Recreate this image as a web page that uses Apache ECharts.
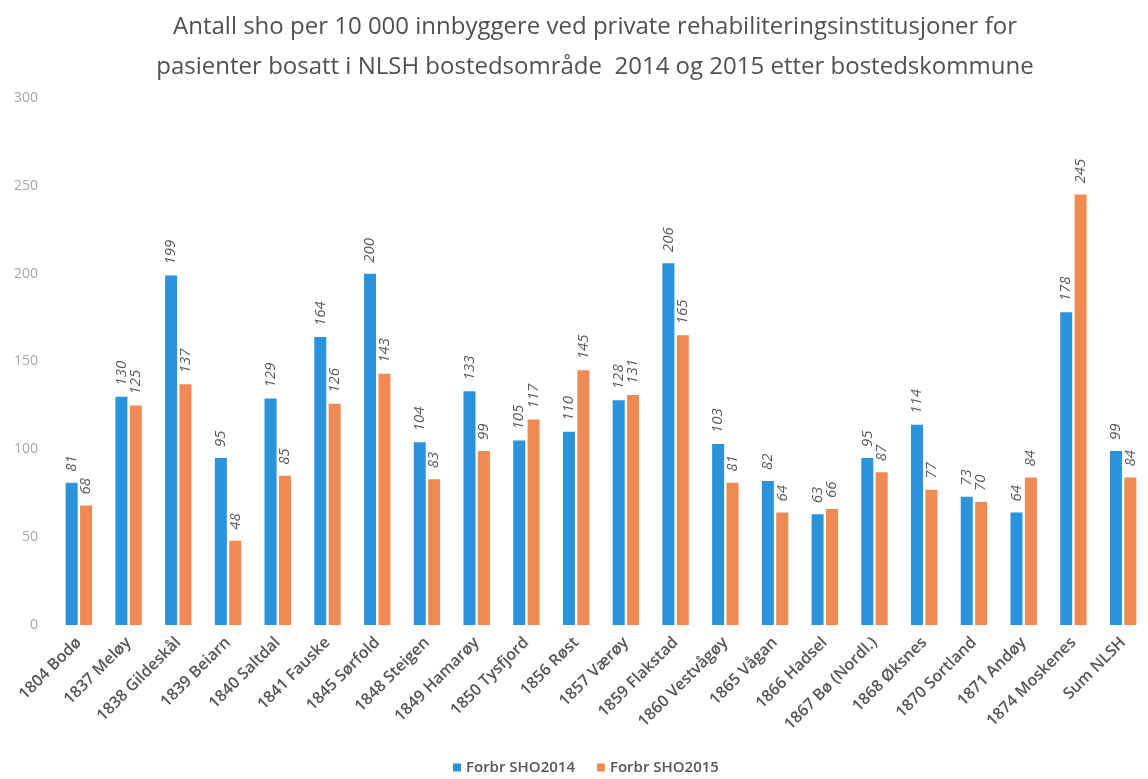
<!DOCTYPE html>
<html>
<head>
<meta charset="utf-8">
<script src="https://cdn.jsdelivr.net/npm/echarts@6/dist/echarts.min.js"></script>
<style>
  html, body { margin: 0; padding: 0; background: #fff; }
  #chart { width: 1148px; height: 779px; }
</style>
</head>
<body>
<div id="chart"></div>
<script>
const categories = [
  "1804 Bodø", "1837 Meløy", "1838 Gildeskål", "1839 Beiarn", "1840 Saltdal",
  "1841 Fauske", "1845 Sørfold", "1848 Steigen", "1849 Hamarøy", "1850 Tysfjord",
  "1856 Røst", "1857 Værøy", "1859 Flakstad", "1860 Vestvågøy", "1865 Vågan",
  "1866 Hadsel", "1867 Bø (Nordl.)", "1868 Øksnes", "1870 Sortland", "1871 Andøy",
  "1874 Moskenes", "Sum NLSH"
];
const sho2014 = [81, 130, 199, 95, 129, 164, 200, 104, 133, 105, 110, 128, 206, 103, 82, 63, 95, 114, 73, 64, 178, 99];
const sho2015 = [68, 125, 137, 48, 85, 126, 143, 83, 99, 117, 145, 131, 165, 81, 64, 66, 87, 77, 70, 84, 245, 84];
const seriesNames = ["Forbr SHO2014", "Forbr SHO2015"];

const textColor = "#595959";
const font = "'Open Sans', 'Noto Sans', sans-serif";

const chart = echarts.init(document.getElementById("chart"));

const valueLabel = {
  show: true,
  position: "top",
  rotate: 90,
  align: "left",
  verticalAlign: "middle",
  distance: 11,
  color: textColor,
  fontFamily: font,
  fontStyle: "italic",
  fontSize: 15
};

chart.setOption({
  animation: false,
  backgroundColor: "#fff",
  title: {
    text: "Antall sho per 10 000 innbyggere ved private rehabiliteringsinstitusjoner for\npasienter bosatt i NLSH bostedsområde  2014 og 2015 etter bostedskommune",
    left: 590,
    textAlign: "center",
    top: 2,
    textStyle: {
      color: "#505050",
      fontFamily: font,
      fontWeight: "normal",
      fontSize: 24,
      lineHeight: 40
    }
  },
  legend: {
    bottom: -1,
    left: 448,
    itemWidth: 8,
    itemHeight: 8,
    itemGap: 22,
    icon: "rect",
    textStyle: { color: "#555", fontFamily: font, fontWeight: 600, fontSize: 15 },
    data: seriesNames
  },
  grid: {
    left: 54,
    top: 98,
    width: 1106,
    height: 527,
    containLabel: false
  },
  xAxis: {
    type: "category",
    data: categories,
    axisLine: { show: false },
    axisTick: { show: false },
    axisLabel: {
      interval: 0,
      rotate: 45,
      margin: 15,
      color: "#555",
      fontFamily: font,
      fontWeight: 600,
      fontSize: 16
    }
  },
  yAxis: {
    type: "value",
    min: 0,
    max: 300,
    interval: 50,
    splitLine: { show: false },
    axisLine: { show: false },
    axisTick: { show: false },
    axisLabel: {
      color: "#a6a6a6",
      fontFamily: font,
      fontSize: 14,
      margin: 16
    }
  },
  series: [
    {
      name: seriesNames[0],
      type: "bar",
      data: sho2014,
      barWidth: 12,
      barGap: "20%",
      itemStyle: { color: "#2a93dc" },
      label: valueLabel
    },
    {
      name: seriesNames[1],
      type: "bar",
      data: sho2015,
      barWidth: 12,
      itemStyle: { color: "#ef8a55" },
      label: valueLabel
    }
  ]
});
</script>
</body>
</html>
